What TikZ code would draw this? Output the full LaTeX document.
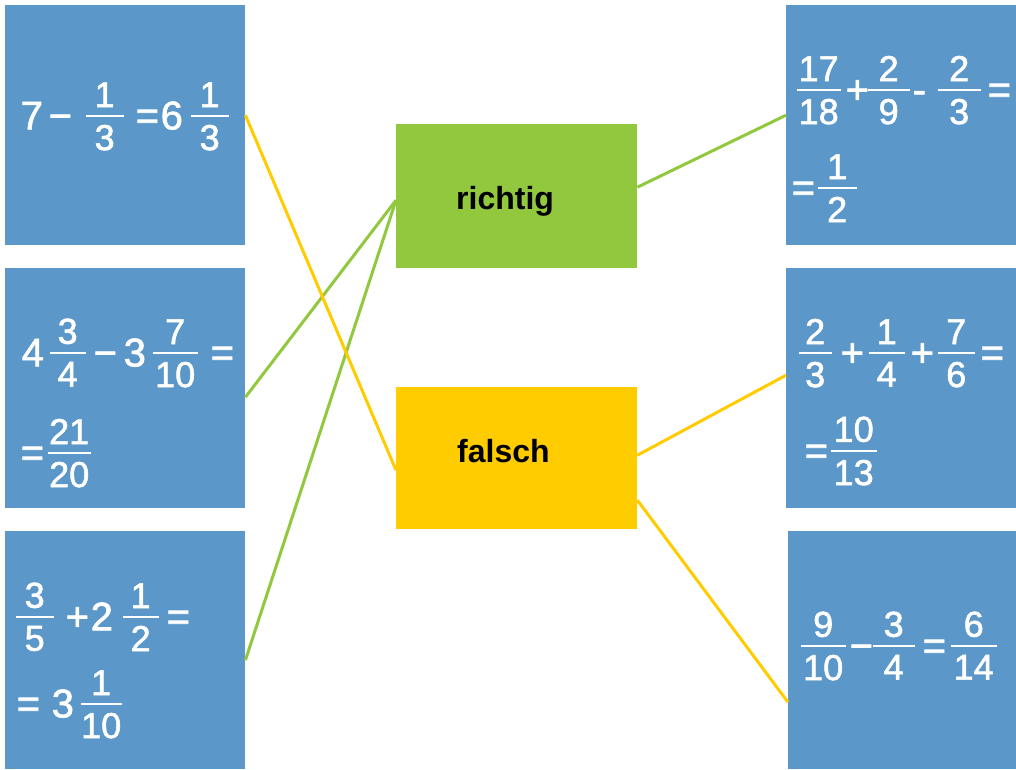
\documentclass[tikz,border=0pt]{standalone}
\usepackage{fontspec}
\setmainfont{Liberation Sans}
\newfontface\eqface{Liberation Sans}[FakeBold=1.6]
\definecolor{boxblue}{RGB}{91,151,200}
\definecolor{okgreen}{RGB}{146,200,62}
\definecolor{badyellow}{RGB}{255,204,0}
\newcommand\mainsz{\eqface\fontsize{40}{44}\selectfont}
\newcommand\fracsz{\fontsize{36}{40}\selectfont}
\newcommand\fr[3][38]{\raise12.5pt\hbox{\vbox{\hbox to #1pt{\hfil\fracsz#2\hfil}\kern8pt\hrule height1.8pt}\kern-#1pt\vtop{\kern8pt\hbox to #1pt{\hfil\fracsz#3\hfil}}}}
\newcommand\at[2]{\rlap{\kern#1pt #2}}
\tikzset{
  card/.style={fill=boxblue, minimum width=240pt, minimum height=240pt, inner sep=0pt, anchor=north west},
  eq/.style={text=white, inner sep=0pt, anchor=base west, font=\mainsz},
  verdict/.style={minimum width=241pt, minimum height=144pt, inner sep=0pt, anchor=north west},
  vlabel/.style={font=\fontsize{32}{36}\selectfont\bfseries, inner sep=0pt, anchor=base west},
  link/.style={line width=3pt}
}
\begin{document}
\begin{tikzpicture}[x=1pt,y=-1pt]
\fill[white] (0,0) rectangle (1016,769);
\useasboundingbox (0,0) rectangle (1016,769);
% left cards
\node[card] (L1) at (5,5) {};
\node[card] (L2) at (5,268) {};
\node[card, minimum height=238pt] (L3) at (5,531) {};
% right cards
\node[card, minimum width=230pt] (R1) at (786,5) {};
\node[card, minimum width=230pt] (R2) at (786,268) {};
\node[card, minimum width=228pt, minimum height=238pt] (R3) at (788,531) {};
% verdict boxes
\node[verdict, fill=okgreen] (R) at (396,124) {};
\node[verdict, fill=badyellow, minimum height=142pt] (F) at (396,387) {};
\node[vlabel] (rt) at (456,209) {richtig};
\node[vlabel] (ft) at (457,462) {falsch};
% equations
\node[eq] (e1) at (20,129.4) {\at{0}{7}\at{28}{−}\at{65}{\fr{1}{3}}\at{115}{=}\at{140}{6}\at{170}{\fr{1}{3}}};
\node[eq] (e2a) at (21,366.4) {\at{0}{4}\at{28}{\fr[36]{3}{4}}\at{72}{−}\at{102}{3}\at{131}{\fr[45]{7}{10}}\at{189}{=}};
\node[eq] (e2b) at (20,466.4) {\at{0}{=}\at{27}{\fr[43]{21}{20}}};
\node[eq] (e3a) at (15,630.4) {\at{0}{\fr{3}{5}}\at{50}{+}\at{75}{2}\at{107}{\fr[36]{1}{2}}\at{151}{=}};
\node[eq] (e3b) at (16,717.4) {\at{0}{=}\at{35}{3}\at{64}{\fr[41]{1}{10}}};
\node[eq] (e4a) at (796,103.4) {\at{0}{\fr[44]{17}{18}}\at{49}{+}\at{71}{\fr[42]{2}{9}}\at{116}{-}\at{141}{\fr[43]{2}{3}}\at{191}{=}};
\node[eq] (e4b) at (791,201.4) {\at{0}{=}\at{26}{\fr[39]{1}{2}}};
\node[eq] (e5a) at (798,366.4) {\at{0}{\fr[33]{2}{3}}\at{42}{+}\at{70}{\fr[36]{1}{4}}\at{112}{+}\at{139}{\fr[37]{7}{6}}\at{182}{=}};
\node[eq] (e5b) at (804,464.4) {\at{0}{=}\at{26}{\fr[46]{10}{13}}};
\node[eq] (e6) at (800,659.4) {\at{0}{\fr[45]{9}{10}}\at{49}{−}\at{72}{\fr[42]{3}{4}}\at{122}{=}\at{150}{\fr[46]{6}{14}}};
% links
\draw[link, okgreen] ([yshift=-9pt]L2.east) -- ([yshift=-4pt]R.west);
\draw[link, okgreen] ([yshift=-10pt]L3.east) -- ([yshift=-4pt]R.west);
\draw[link, badyellow] ([yshift=10pt]L1.east) -- ([yshift=-12pt]F.west);
\draw[link, okgreen] ([yshift=9pt]R.east) -- ([yshift=10pt]R1.west);
\draw[link, badyellow] ([yshift=3pt]F.east) -- ([yshift=13pt]R2.west);
\draw[link, badyellow] ([yshift=-42pt]F.east) -- ([yshift=-52pt]R3.west);
\end{tikzpicture}
\end{document}
